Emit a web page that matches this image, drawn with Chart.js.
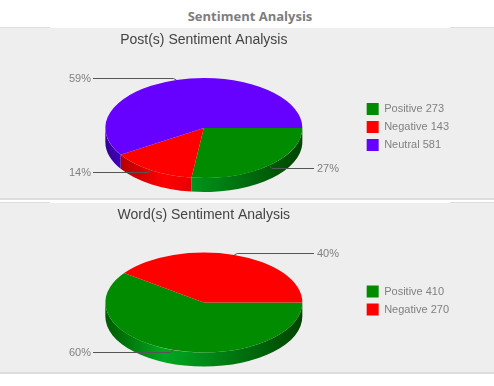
<!DOCTYPE html>
<html>
<head>
<meta charset="utf-8">
<title>Sentiment Analysis</title>
<script src="https://cdn.jsdelivr.net/npm/chart.js@4"></script>
<style>
html, body { margin: 0; padding: 0; background: #fff; }
body { width: 494px; height: 386px; position: relative; overflow: hidden; }
h2 { position: absolute; top: 7px; left: 3px; width: 494px; margin: 0; text-align: center;
     font: bold 13px "Open Sans", sans-serif; color: #7d7d7d; }
.panel { position: absolute; left: 0; width: 494px; height: 170px; background: #eee; }
.panel canvas { display: block; }
.edge { position: absolute; top: -1px; width: 50px; height: 1px; background: #ddd; }
#panelPosts { top: 28px; border-bottom: 2px solid #ddd; }
#panelWords { top: 203px; height: 169px; border-bottom: 2px solid #ddd; }
</style>
</head>
<body>
<h2>Sentiment Analysis</h2>
<div class="panel" id="panelPosts">
    <div class="edge" style="left:0"></div><div class="edge" style="left:450px;width:44px"></div>
    <canvas id="chartPosts" width="494" height="170"></canvas>
</div>
<div class="panel" id="panelWords">
    <div class="edge" style="left:0"></div><div class="edge" style="left:450px;width:44px"></div>
    <canvas id="chartWords" width="494" height="169"></canvas>
</div>
<script>
const postLabels = ['Positive', 'Negative', 'Neutral'];
const postCounts = [273, 143, 581];
const postPercents = [27, 14, 59];
const postColors = ['#008b00', '#ff0000', '#6600ff'];
const postSides = [
    ['#005a00', '#00a820', '#004400'],
    ['#990000', '#ff0000', '#800000'],
    ['#330099', '#6600ff', '#330080']
];

const wordLabels = ['Positive', 'Negative'];
const wordCounts = [410, 270];
const wordPercents = [60, 40];
const wordColors = ['#008b00', '#ff0000'];
const wordSides = [
    ['#005a00', '#00a820', '#004400'],
    ['#990000', '#ff0000', '#800000']
];

const RADIUS = 98.5;
const SQUASH = 50 / 98.5;
const DEPTH = 14;

// top face is squashed, so the side wall has to be painted first
const pie3d = {
    id: 'pie3d',
    afterLayout(chart, args, opts) {
        chart.legend.top -= opts.legendShift;
        chart.legend.bottom -= opts.legendShift;
    },
    beforeDatasetsDraw(chart, args, opts) {
        const ctx = chart.ctx;
        const arcs = chart.getDatasetMeta(0).data;
        arcs.forEach((arc, i) => {
            const { x, y, startAngle, endAngle, outerRadius } = arc.getProps(['x', 'y', 'startAngle', 'endAngle', 'outerRadius']);
            const from = Math.max(startAngle, 0);
            const to = Math.min(endAngle, Math.PI);
            if (to <= from) return;
            const ry = outerRadius * SQUASH;
            const grad = ctx.createLinearGradient(x - outerRadius, 0, x + outerRadius, 0);
            grad.addColorStop(0, opts.sides[i][0]);
            grad.addColorStop(0.3, opts.sides[i][1]);
            grad.addColorStop(1, opts.sides[i][2]);
            ctx.beginPath();
            ctx.ellipse(x, y, outerRadius, ry, 0, from, to);
            ctx.ellipse(x, y + DEPTH, outerRadius, ry, 0, to, from, true);
            ctx.closePath();
            ctx.fillStyle = grad;
            ctx.fill();
        });
        const first = arcs[0];
        ctx.save();
        ctx.translate(first.x, first.y);
        ctx.scale(1, SQUASH);
        ctx.translate(-first.x, -first.y);
    },
    afterDatasetsDraw(chart, args, opts) {
        const ctx = chart.ctx;
        ctx.restore();
        ctx.font = '11px "Liberation Sans", Arial, sans-serif';
        ctx.textBaseline = 'middle';
        chart.getDatasetMeta(0).data.forEach((arc, i) => {
            const { x, y, startAngle, endAngle, outerRadius } = arc.getProps(['x', 'y', 'startAngle', 'endAngle', 'outerRadius']);
            const mid = (startAngle + endAngle) / 2;
            const ax = x + Math.cos(mid) * outerRadius;
            const ay = y + Math.sin(mid) * outerRadius * SQUASH;
            const right = Math.cos(mid) > 0;
            const down = Math.sin(mid) > 0;
            const ly = Math.round(ay + (down ? 2 : -2)) + 0.5;
            const endX = right ? 314 : 93;
            ctx.beginPath();
            ctx.moveTo(ax, ay);
            ctx.lineTo(ax + (right ? 3 : -3), ly);
            ctx.lineTo(endX, ly);
            ctx.strokeStyle = '#555';
            ctx.lineWidth = 1;
            ctx.stroke();
            ctx.fillStyle = '#808080';
            ctx.textAlign = right ? 'left' : 'right';
            ctx.fillText(opts.percents[i] + '%', right ? 317 : 91, ly);
        });
    }
};

function makeChart(id, titleText, labels, counts, percents, colors, sides, legendShift) {
    return new Chart(document.getElementById(id), {
        type: 'pie',
        plugins: [pie3d],
        data: {
            labels: labels,
            datasets: [{
                data: percents,
                backgroundColor: colors,
                borderWidth: 0,
                radius: RADIUS,
                clip: false
            }]
        },
        options: {
            responsive: false,
            animation: false,
            rotation: 90,
            layout: { padding: { left: 47, right: 35 } },
            plugins: {
                tooltip: { enabled: false },
                title: {
                    display: true,
                    text: titleText,
                    fullSize: false,
                    color: '#444',
                    font: { family: '"Liberation Sans", Arial, sans-serif', size: 14, weight: 'normal' },
                    padding: { top: 3.5, bottom: 9.7 }
                },
                legend: {
                    position: 'right',
                    fullSize: false,
                    labels: {
                        boxWidth: 12,
                        boxHeight: 12,
                        padding: 6,
                        color: '#808080',
                        font: { family: '"Liberation Sans", Arial, sans-serif', size: 11 },
                        generateLabels: () => labels.map((name, i) => ({
                            text: name + ' ' + counts[i],
                            fillStyle: colors[i],
                            strokeStyle: colors[i],
                            lineWidth: 0,
                            fontColor: '#808080',
                            index: i
                        }))
                    }
                },
                pie3d: { sides: sides, percents: percents, legendShift: legendShift }
            }
        }
    });
}

makeChart('chartPosts', 'Post(s) Sentiment Analysis', postLabels, postCounts, postPercents, postColors, postSides, 1);
makeChart('chartWords', 'Word(s) Sentiment Analysis', wordLabels, wordCounts, wordPercents, wordColors, wordSides, 2);
</script>
</body>
</html>
